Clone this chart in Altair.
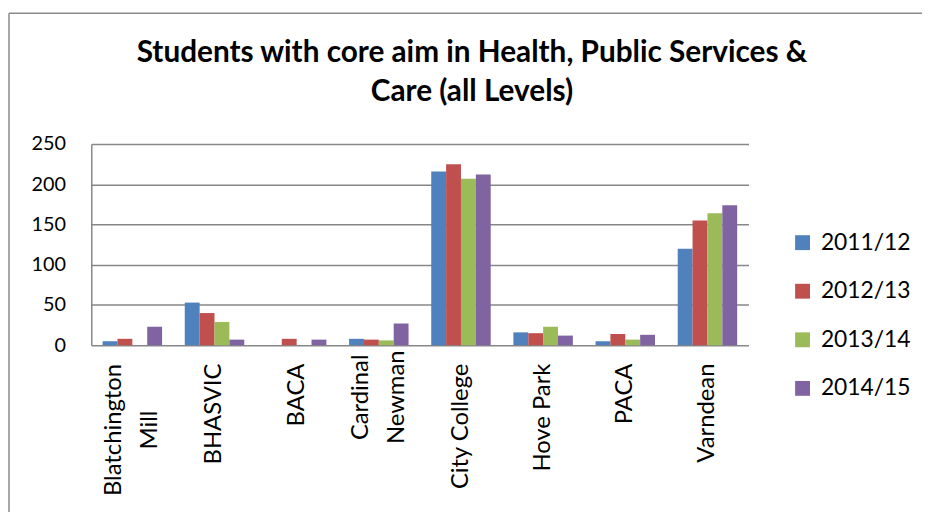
import altair as alt
import pandas as pd

schools = ["Blatchington\nMill", "BHASVIC", "BACA", "Cardinal\nNewman",
           "City College", "Hove Park", "PACA", "Varndean"]
years = ["2011/12", "2012/13", "2013/14", "2014/15"]
v_2011 = [5, 53, 0, 8, 216, 16, 5, 120]
v_2012 = [8, 40, 8, 7, 225, 15, 14, 155]
v_2013 = [0, 29, 0, 6, 207, 23, 7, 164]
v_2014 = [23, 7, 7, 27, 212, 12, 13, 174]
colors = ["#4F81BD", "#C0504D", "#9BBB59", "#8064A2"]
title_lines = ["Students with core aim in Health, Public Services &", "Care (all Levels)"]

rows = []
for yr, vals in zip(years, [v_2011, v_2012, v_2013, v_2014]):
    for s, v in zip(schools, vals):
        rows.append({"school": s, "year": yr, "value": v})
df = pd.DataFrame(rows)

GRAY = "#878787"
one = pd.DataFrame({"a": [0]})
multi = "indexof(datum.label, '\\n') >= 0"

bars = alt.Chart(df).mark_bar().encode(
    x=alt.X("school:N", sort=schools, title=None,
            scale=alt.Scale(paddingInner=0.276, paddingOuter=0.138),
            axis=alt.Axis(labelAngle=270, labelExpr="split(datum.label, '\\n')",
                          labelFont="Lato", labelFontSize=24, labelColor="black",
                          labelLineHeight=36, ticks=False, domain=False,
                          labelLimit=300,
                          labelAlign={"condition": {"test": multi, "value": "center"},
                                      "value": "right"},
                          labelPadding={"condition": [
                              {"test": "datum.label == 'Blatchington\\nMill'", "value": 85},
                              {"test": "datum.label == 'Cardinal\\nNewman'", "value": 52}],
                              "value": 18},
                          labelOffset={"condition": {"test": multi, "value": -18},
                                       "value": 0})),
    xOffset=alt.XOffset("year:N", sort=years, scale=alt.Scale(paddingInner=0, paddingOuter=0)),
    y=alt.Y("value:Q", title=None,
            scale=alt.Scale(domain=[0, 250], nice=False),
            axis=alt.Axis(values=[0, 50, 100, 150, 200, 250], grid=True, gridColor=GRAY,
                          gridWidth=1.5, domainColor=GRAY, domainWidth=1.5, ticks=False,
                          labelFont="Lato", labelFontSize=20, labelColor="black",
                          labelPadding=26)),
    color=alt.Color("year:N", sort=years,
                    scale=alt.Scale(domain=years, range=colors),
                    legend=alt.Legend(title=None, orient="none", legendX=706, legendY=88,
                                      symbolType="square", symbolSize=225, symbolStrokeWidth=0,
                                      labelFont="Lato", labelFontSize=23, labelColor="black",
                                      labelOffset=7, rowPadding=25)),
)

left_edge = alt.Chart(one).mark_rule(color="#8a8a8a", strokeWidth=1.5).encode(
    x=alt.value(-83), y=alt.value(-132), y2=alt.value(420))
top_edge = alt.Chart(one).mark_rule(color="#8a8a8a", strokeWidth=1.5).encode(
    x=alt.value(-83), x2=alt.value(900), y=alt.value(-132))

title = alt.Chart(one).mark_text(
    font="Lato", fontSize=30, fontWeight="bold", lineHeight=40,
    align="center", baseline="alphabetic", color="black"
).encode(x=alt.value(384), y=alt.value(-83), text=alt.value(title_lines))

chart = alt.layer(left_edge, top_edge, title, bars).properties(
    width=663, height=203,
    padding={"left": 84, "top": 135, "right": 175, "bottom": 166},
    autosize=alt.AutoSizeParams(type="none"),
).configure_view(strokeWidth=0)

chart.save("out.html", embed_options={"renderer": "svg", "actions": False})
